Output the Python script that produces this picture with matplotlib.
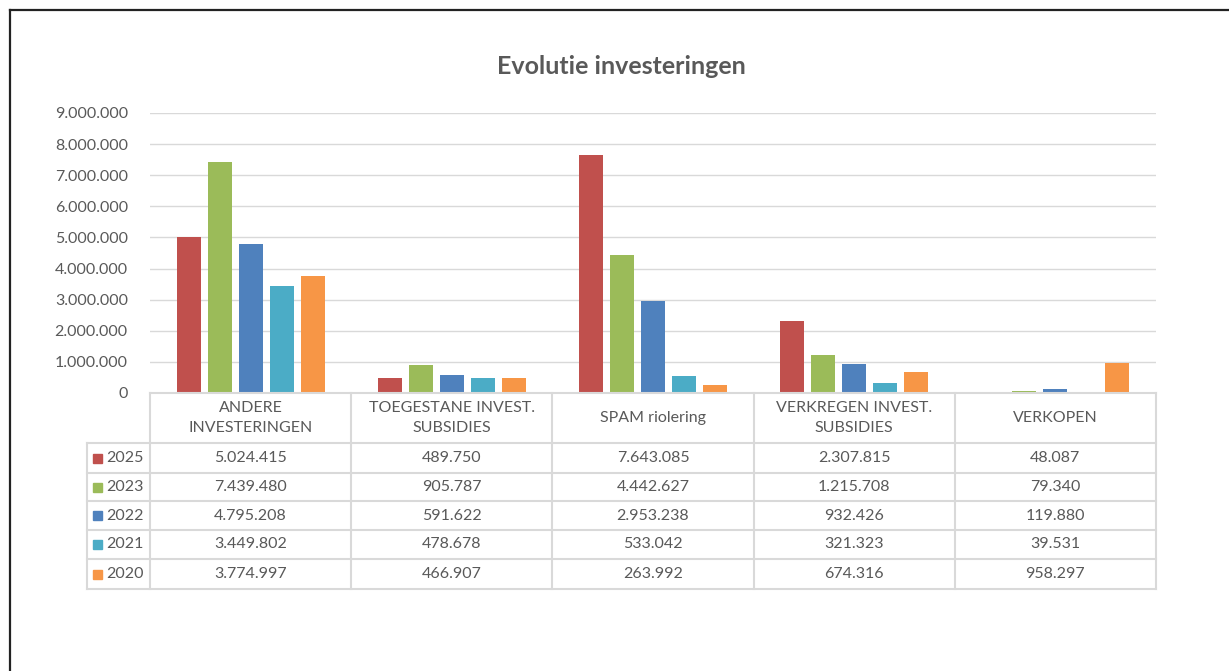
import matplotlib.pyplot as plt
from matplotlib.lines import Line2D
from matplotlib.patches import Rectangle
import numpy as np

plt.rcParams['font.family'] = ['Lato', 'DejaVu Sans']

# data
categories = ['ANDERE\nINVESTERINGEN', 'TOEGESTANE INVEST.\nSUBSIDIES', 'SPAM riolering',
              'VERKREGEN INVEST.\nSUBSIDIES', 'VERKOPEN']
years = ['2025', '2023', '2022', '2021', '2020']
v2025 = [5024415, 489750, 7643085, 2307815, 48087]
v2023 = [7439480, 905787, 4442627, 1215708, 79340]
v2022 = [4795208, 591622, 2953238, 932426, 119880]
v2021 = [3449802, 478678, 533042, 321323, 39531]
v2020 = [3774997, 466907, 263992, 674316, 958297]
series = [v2025, v2023, v2022, v2021, v2020]
colors = ['#C0504D', '#9BBB59', '#4F81BD', '#4BACC6', '#F79646']

W, H = 1229, 671
txt = '#595959'
grid = '#D9D9D9'
fs = 11.5

fig = plt.figure(figsize=(W / 100, H / 100), dpi=100)
# axes in pixel coords: x 150..1156, y(top) 113..393
ax = fig.add_axes([150 / W, (H - 393) / H, 1006 / W, 280 / H])

x = np.arange(len(categories))
bw = 0.119
step = 0.154
for i, vals in enumerate(series):
    ax.bar(x + (i - 2) * step, vals, width=bw, color=colors[i], zorder=3)

ax.set_xlim(-0.5, len(categories) - 0.5)
ax.set_ylim(0, 9000000)
ax.set_yticks(np.arange(0, 9000001, 1000000))
ax.set_yticklabels([f'{int(v):,}'.replace(',', '.') for v in ax.get_yticks()],
                   color=txt, fontsize=fs)
ax.tick_params(axis='y', length=0, pad=16)
ax.set_xticks([])
ax.yaxis.grid(True, color=grid, linewidth=1, zorder=0)
for s in ax.spines.values():
    s.set_visible(False)

# data table below the axes: x in data units, y in pixels
def ypx(p):
    return -(p - 393) / 280.0

trans = ax.get_xaxis_transform()
row_lines = [393, 443, 473, 501, 530, 559, 589]
left_edge = -0.5 - 63 / 201.2
right_edge = len(categories) - 0.5
tkw = dict(transform=trans, clip_on=False, color=grid, linewidth=1.5, zorder=5)

# horizontal lines
ax.add_line(Line2D([-0.5, right_edge], [ypx(393), ypx(393)], **tkw))
for p in row_lines[1:]:
    ax.add_line(Line2D([left_edge, right_edge], [ypx(p), ypx(p)], **tkw))
# vertical lines
ax.add_line(Line2D([left_edge, left_edge], [ypx(443), ypx(589)], **tkw))
for b in np.arange(-0.5, right_edge + 0.01, 1.0):
    ax.add_line(Line2D([b, b], [ypx(393), ypx(589)], **tkw))

# header labels
for i, c in enumerate(categories):
    ax.text(i, ypx(418), c, transform=trans, ha='center', va='center',
            fontsize=fs, color=txt, linespacing=1.55)

# value rows
for r, (yr, vals) in enumerate(zip(years, series)):
    yc = ypx((row_lines[r + 1] + row_lines[r + 2]) / 2)
    for i, v in enumerate(vals):
        ax.text(i, yc, f'{v:,}'.replace(',', '.'), transform=trans,
                ha='center', va='center', fontsize=fs, color=txt)
    # legend key + year
    ax.add_patch(Rectangle((left_edge + 6 / 201.2, yc - 4.5 / 280), 9 / 201.2, 9 / 280,
                           transform=trans, clip_on=False, color=colors[r], zorder=6))
    ax.text(left_edge + 19 / 201.2, yc, yr, transform=trans, ha='left', va='center',
            fontsize=fs, color=txt)

# title
fig.text(621 / W, 1 - 66 / H, 'Evolutie investeringen', ha='center', va='center',
         fontsize=18, fontweight='bold', color=txt)

# outer frame (left and top edges)
fig.add_artist(Line2D([9.5 / W, 9.5 / W], [0, 1 - 10 / H], color='#222222', linewidth=1.6))
fig.add_artist(Line2D([9.5 / W, 1], [1 - 10 / H, 1 - 10 / H], color='#222222', linewidth=1.6))

plt.savefig('out.png', dpi=100)
plt.close()
